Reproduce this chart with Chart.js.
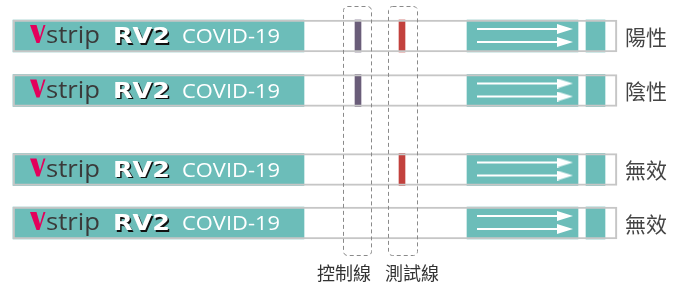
<!DOCTYPE html>
<html>
<head>
<meta charset="utf-8">
<script src="https://cdn.jsdelivr.net/npm/chart.js@4.4.0/dist/chart.umd.min.js"></script>
<style>
  html, body { margin: 0; padding: 0; background: #fff; }
  #wrap { width: 680px; height: 288px; }
</style>
</head>
<body>
<div id="wrap"><canvas id="strips"></canvas></div>
<script>
// result written next to each strip
const results = ['陽性', '陰性', '無效', '無效'];
// centre of each strip on the vertical axis
const stripRows = [36, 90.5, 169.5, 223];
// which lines show up on each strip
const hasControl = [true, true, false, false];
const hasTest = [true, false, true, false];
// parts along the strip (horizontal axis units)
const stripSpan = [13, 617];
const tealParts = [[13, 304], [467, 578], [586, 605]];
const controlLine = [355, 361];
const testLine = [399, 405];
const arrowSpan = [477, 565];
const arrowOffsets = [-7, 6];
// reading windows + captions under them
const windowLabels = ['控制線', '測試線'];
const windowSpans = [[343, 371], [388, 417]];
const windowRange = [6, 255];
const logoParts = ['strip', 'RV2', 'COVID-19'];

const TEAL = '#6cbdb9';

// arrow head used as point style
const head = document.createElement('canvas');
head.width = 16; head.height = 10;
const hc = head.getContext('2d');
hc.fillStyle = '#fff';
hc.beginPath(); hc.moveTo(0, 0); hc.lineTo(16, 5); hc.lineTo(0, 10); hc.closePath(); hc.fill();

const barRows = (span, rows) => rows.map(y => ({ x: span, y: y }));

const datasets = [];
tealParts.forEach(p => datasets.push({
  type: 'bar', indexAxis: 'y', data: barRows(p, stripRows),
  backgroundColor: TEAL, order: 9,
}));
datasets.push({
  type: 'bar', indexAxis: 'y',
  data: barRows(controlLine, stripRows.filter((_, i) => hasControl[i])),
  backgroundColor: '#6a5d79', order: 8,
});
datasets.push({
  type: 'bar', indexAxis: 'y',
  data: barRows(testLine, stripRows.filter((_, i) => hasTest[i])),
  backgroundColor: '#c2413d', order: 8,
});
stripRows.forEach(y => arrowOffsets.forEach(dy => datasets.push({
  type: 'line',
  data: [{ x: arrowSpan[0], y: y + dy }, { x: arrowSpan[1], y: y + dy }],
  borderColor: '#fff', borderWidth: 2,
  pointRadius: [0, 8], pointStyle: ['circle', head],
  order: 2,
})));
// outline on top
datasets.push({
  type: 'bar', indexAxis: 'y', data: barRows(stripSpan, stripRows),
  backgroundColor: 'rgba(0,0,0,0)', borderColor: '#c6c6c6',
  borderWidth: 1.5, borderSkipped: false, order: 0,
});

function fitText(c, text, x, base, font, width, color) {
  c.save();
  c.font = font;
  const w = c.measureText(text).width;
  c.translate(x, base);
  c.scale(width / w, 1);
  c.fillStyle = color;
  c.fillText(text, 0, 0);
  c.restore();
}

const decor = {
  id: 'decor',
  afterDatasetsDraw(chart) {
    const c = chart.ctx;
    const xs = chart.scales.x, ys = chart.scales.y;
    const px = v => xs.getPixelForValue(v);
    const py = v => ys.getPixelForValue(v);
    c.save();
    c.textBaseline = 'alphabetic';
    stripRows.forEach((r, i) => {
      const mid = py(r);
      const base = mid + 7;
      // the check-mark "V" of the logo
      c.fillStyle = '#e3005b';
      c.beginPath();
      c.moveTo(px(30), mid - 11);
      c.lineTo(px(36.5), mid - 11);
      c.lineTo(px(40), mid + 1);
      c.lineTo(px(43.5), mid - 11);
      c.lineTo(px(45.5), mid - 11);
      c.lineTo(px(39.5), mid + 7);
      c.lineTo(px(36.5), mid + 7);
      c.closePath();
      c.fill();
      fitText(c, logoParts[0], px(46), base, '24px "Open Sans"', 54, '#3a3a3a');
      c.save();
      c.shadowColor = '#111'; c.shadowOffsetX = 1.5; c.shadowOffsetY = 1.5; c.shadowBlur = 0;
      fitText(c, logoParts[1], px(113), base, 'bold 22px "DejaVu Sans"', 57, '#fff');
      c.restore();
      fitText(c, logoParts[2], px(182), base, '20px "Open Sans"', 98, '#fff');
      c.font = '21px "Noto Sans CJK TC"';
      c.fillStyle = '#444';
      c.textBaseline = 'middle';
      c.fillText(results[i], px(625), mid + 1);
      c.textBaseline = 'alphabetic';
    });
    // dashed windows
    c.strokeStyle = '#8a8a8a';
    c.lineWidth = 1;
    c.setLineDash([4, 3]);
    windowSpans.forEach(s => {
      c.beginPath();
      c.roundRect(px(s[0]) + 0.5, py(windowRange[0]) + 0.5, px(s[1]) - px(s[0]), py(windowRange[1]) - py(windowRange[0]), 4);
      c.stroke();
    });
    c.setLineDash([]);
    c.font = '18px "Noto Sans CJK TC"';
    c.fillStyle = '#333';
    c.textBaseline = 'middle';
    c.fillText(windowLabels[0], px(317), py(273));
    c.fillText(windowLabels[1], px(385), py(273));
    c.restore();
  }
};

new Chart(document.getElementById('strips').getContext('2d'), {
  type: 'bar',
  data: { datasets: datasets },
  options: {
    responsive: true,
    maintainAspectRatio: false,
    animation: false,
    layout: { padding: 0, autoPadding: false },
    datasets: {
      bar: { barThickness: 32, grouped: false },
    },
    scales: {
      x: { type: 'linear', min: 0, max: 680, offset: false, display: false },
      y: { type: 'linear', min: 0, max: 288, offset: false, reverse: true, display: false },
    },
    plugins: {
      legend: { display: false },
      tooltip: { enabled: false },
    },
  },
  plugins: [decor],
});
</script>
</body>
</html>
